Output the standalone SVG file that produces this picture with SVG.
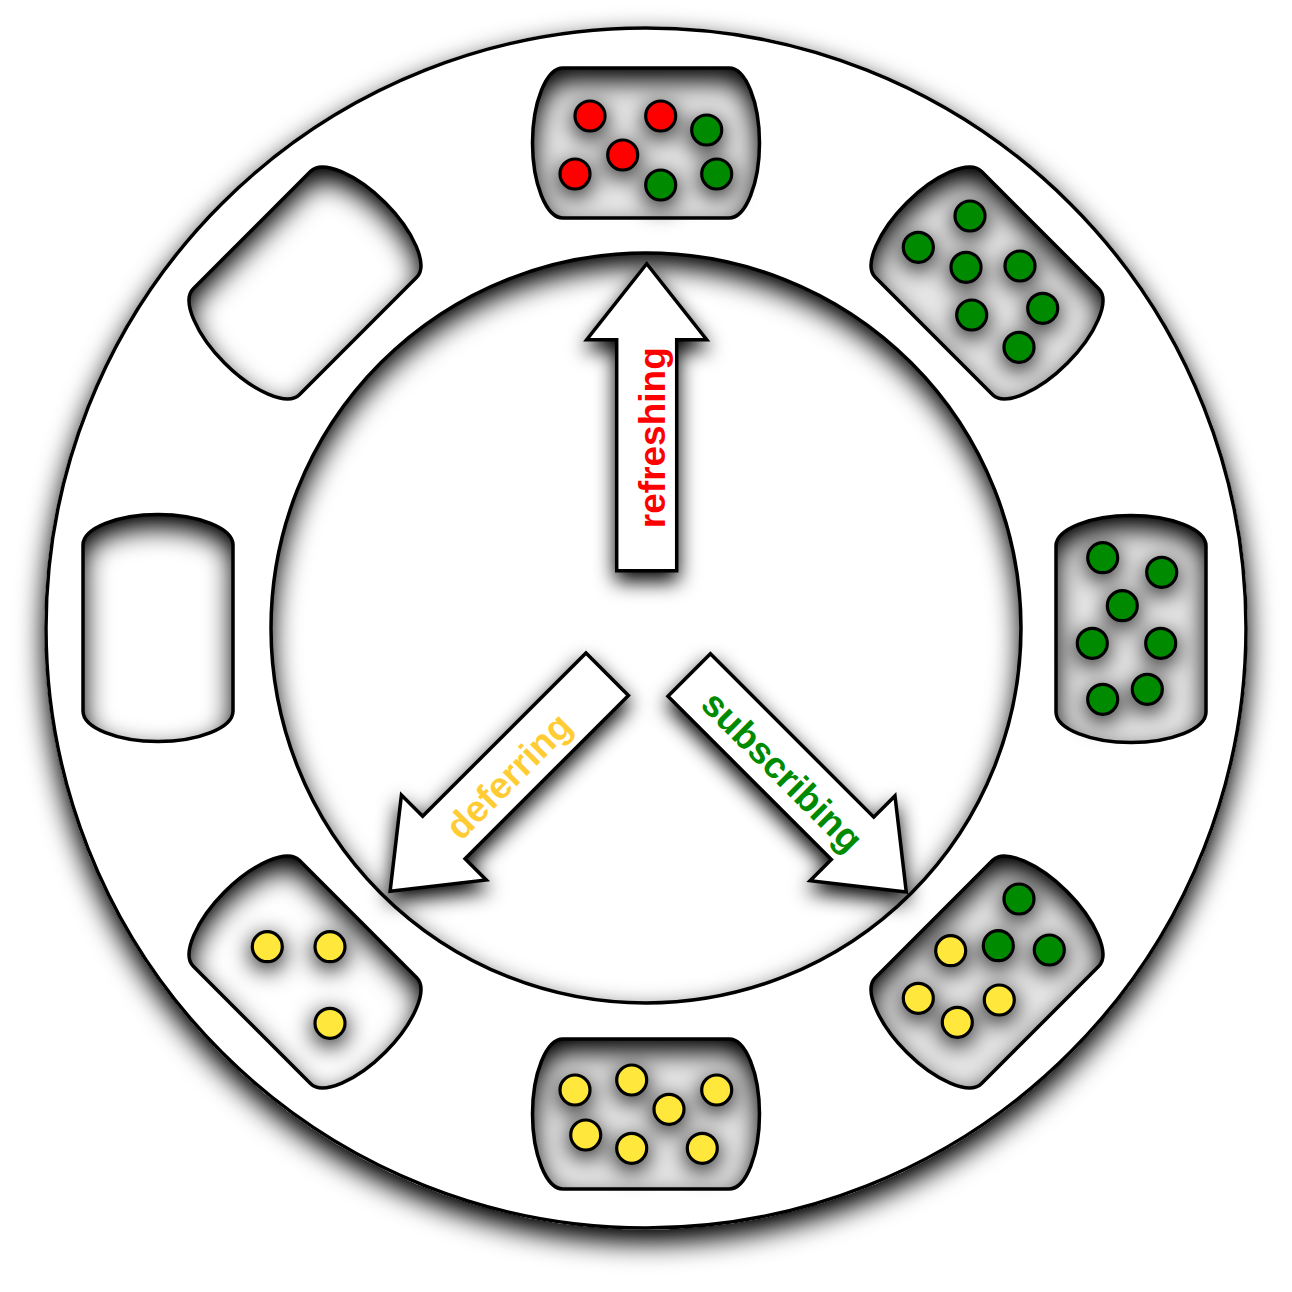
<svg xmlns="http://www.w3.org/2000/svg" xmlns:xlink="http://www.w3.org/1999/xlink" width="1292" height="1292" viewBox="0 0 1292 1292">
<defs>
<style>
.edge{fill:none;stroke:#000;stroke-width:3.5}
.full{fill:#000;fill-opacity:0.09;stroke:#000;stroke-width:3.5}
.dot{stroke:#000;stroke-width:3.2}
.r{fill:#ff0000}
.g{fill:#008a00}
.y{fill:#ffe83a}
.arrow{fill:#fff;stroke:#000;stroke-width:3.5;stroke-linejoin:miter}
.lbl{font-family:"Liberation Sans",Arial,sans-serif;font-weight:bold;font-size:37px;text-anchor:middle}
</style>
<path id="slot" d="M-83,-75H83C100,-75 113.5,-40 113.5,0C113.5,40 100,75 83,75H-83C-100,75 -113.5,40 -113.5,0C-113.5,-40 -100,-75 -83,-75Z"/>
<path id="arr" d="M0,-30H231V-60L307,0L231,60V30H0Z"/>
<filter id="sh" x="-15%" y="-15%" width="130%" height="135%">
<feGaussianBlur in="SourceAlpha" stdDeviation="14"/>
<feOffset dy="12"/>
<feComponentTransfer><feFuncA type="linear" slope="1.1"/></feComponentTransfer>
<feMerge><feMergeNode/><feMergeNode in="SourceGraphic"/></feMerge>
</filter>
<filter id="ash" x="-30%" y="-30%" width="160%" height="160%">
<feGaussianBlur in="SourceAlpha" stdDeviation="10"/>
<feOffset dy="9"/>
<feComponentTransfer><feFuncA type="linear" slope="1"/></feComponentTransfer>
<feMerge><feMergeNode/><feMergeNode in="SourceGraphic"/></feMerge>
</filter>
<filter id="dsh" x="-50%" y="-50%" width="200%" height="200%">
<feGaussianBlur in="SourceAlpha" stdDeviation="12"/>
<feOffset dy="6"/>
<feComponentTransfer><feFuncA type="linear" slope="1"/></feComponentTransfer>
<feMerge><feMergeNode/><feMergeNode in="SourceGraphic"/></feMerge>
</filter>
<mask id="holes" maskUnits="userSpaceOnUse" x="0" y="0" width="1292" height="1292">
<rect width="1292" height="1292" fill="#fff"/>
<circle cx="646" cy="628" r="375" fill="#000"/>
<use xlink:href="#slot" fill="#000" transform="translate(646,143)"/>
<use xlink:href="#slot" fill="#000" transform="translate(987,283) rotate(45)"/>
<use xlink:href="#slot" fill="#000" transform="translate(1131,629) rotate(90)"/>
<use xlink:href="#slot" fill="#000" transform="translate(987,972) rotate(135)"/>
<use xlink:href="#slot" fill="#000" transform="translate(646,1114) rotate(180)"/>
<use xlink:href="#slot" fill="#000" transform="translate(305,972) rotate(225)"/>
<use xlink:href="#slot" fill="#000" transform="translate(158,628) rotate(270)"/>
<use xlink:href="#slot" fill="#000" transform="translate(305,283) rotate(-45)"/>
</mask>
</defs>
<rect width="1292" height="1292" fill="#fff"/>
<g id="ring">
<g filter="url(#sh)"><g mask="url(#holes)"><circle cx="646" cy="628" r="601.5" fill="#fff"/></g></g>
<circle class="edge" cx="646" cy="628" r="600"/>
<circle class="edge" cx="646" cy="628" r="375"/>
</g>
<g id="slot-top">
<use xlink:href="#slot" class="full" transform="translate(646,143)"/>
<g filter="url(#dsh)">
<circle class="dot r" cx="590" cy="116" r="15"/>
<circle class="dot r" cx="660.7" cy="116" r="15"/>
<circle class="dot g" cx="706.7" cy="130" r="15"/>
<circle class="dot r" cx="622.7" cy="155" r="15"/>
<circle class="dot r" cx="575" cy="174" r="15"/>
<circle class="dot g" cx="660.7" cy="185" r="15"/>
<circle class="dot g" cx="716.7" cy="174" r="15"/>
</g>
</g>
<g id="slot-top-right">
<use xlink:href="#slot" class="full" transform="translate(987,283) rotate(45)"/>
<g filter="url(#dsh)">
<circle class="dot g" cx="970" cy="216" r="15"/>
<circle class="dot g" cx="918.3" cy="247.3" r="15"/>
<circle class="dot g" cx="966" cy="267.3" r="15"/>
<circle class="dot g" cx="1020" cy="266" r="15"/>
<circle class="dot g" cx="971.7" cy="315" r="15"/>
<circle class="dot g" cx="1042.7" cy="308.3" r="15"/>
<circle class="dot g" cx="1019" cy="347.3" r="15"/>
</g>
</g>
<g id="slot-right">
<use xlink:href="#slot" class="full" transform="translate(1131,629) rotate(90)"/>
<g filter="url(#dsh)">
<circle class="dot g" cx="1102.7" cy="557.7" r="15"/>
<circle class="dot g" cx="1161.7" cy="572.3" r="15"/>
<circle class="dot g" cx="1122.3" cy="605.7" r="15"/>
<circle class="dot g" cx="1092.3" cy="643.3" r="15"/>
<circle class="dot g" cx="1160.7" cy="643.3" r="15"/>
<circle class="dot g" cx="1102.7" cy="699.3" r="15"/>
<circle class="dot g" cx="1147.3" cy="689.3" r="15"/>
</g>
</g>
<g id="slot-bottom-right">
<use xlink:href="#slot" class="full" transform="translate(987,972) rotate(135)"/>
<g filter="url(#dsh)">
<circle class="dot g" cx="1019" cy="899" r="15"/>
<circle class="dot y" cx="950.7" cy="950.7" r="15"/>
<circle class="dot g" cx="998.3" cy="945.7" r="15"/>
<circle class="dot g" cx="1049.3" cy="950" r="15"/>
<circle class="dot y" cx="918.3" cy="998.3" r="15"/>
<circle class="dot y" cx="999.3" cy="1000" r="15"/>
<circle class="dot y" cx="957.3" cy="1022.3" r="15"/>
</g>
</g>
<g id="slot-bottom">
<use xlink:href="#slot" class="full" transform="translate(646,1114) rotate(180)"/>
<g filter="url(#dsh)">
<circle class="dot y" cx="575" cy="1090" r="15"/>
<circle class="dot y" cx="631.7" cy="1080" r="15"/>
<circle class="dot y" cx="716.7" cy="1090" r="15"/>
<circle class="dot y" cx="669" cy="1109.3" r="15"/>
<circle class="dot y" cx="585.7" cy="1135" r="15"/>
<circle class="dot y" cx="631.7" cy="1148.3" r="15"/>
<circle class="dot y" cx="702.3" cy="1148.3" r="15"/>
</g>
</g>
<g id="slot-bottom-left">
<use xlink:href="#slot" class="edge" transform="translate(305,972) rotate(225)"/>
<g filter="url(#dsh)">
<circle class="dot y" cx="267.3" cy="946.7" r="15"/>
<circle class="dot y" cx="330" cy="946.7" r="15"/>
<circle class="dot y" cx="330" cy="1023.3" r="15"/>
</g>
</g>
<g id="slot-left">
<use xlink:href="#slot" class="edge" transform="translate(158,628) rotate(270)"/>
</g>
<g id="slot-top-left">
<use xlink:href="#slot" class="edge" transform="translate(305,283) rotate(-45)"/>
</g>
<g id="connectors">
<g id="arrow-refreshing">
<g filter="url(#ash)"><use xlink:href="#arr" class="arrow" transform="translate(646.7,570.7) rotate(-90)"/></g>
<text class="lbl" fill="#ff0000" transform="translate(646.7,570.7) rotate(-90)" x="133" y="18">refreshing</text>
</g>
<g id="arrow-deferring">
<g filter="url(#ash)"><use xlink:href="#arr" class="arrow" transform="translate(607.2,674.2) rotate(135)"/></g>
<text class="lbl" fill="#ffcc33" transform="translate(507,774.4) rotate(-45)" x="0" y="15">deferring</text>
</g>
<g id="arrow-subscribing">
<g filter="url(#ash)"><use xlink:href="#arr" class="arrow" transform="translate(689.2,675) rotate(45)"/></g>
<text class="lbl" fill="#008a00" transform="translate(689.2,675) rotate(45)" x="134" y="15">subscribing</text>
</g>
</g>
</svg>
